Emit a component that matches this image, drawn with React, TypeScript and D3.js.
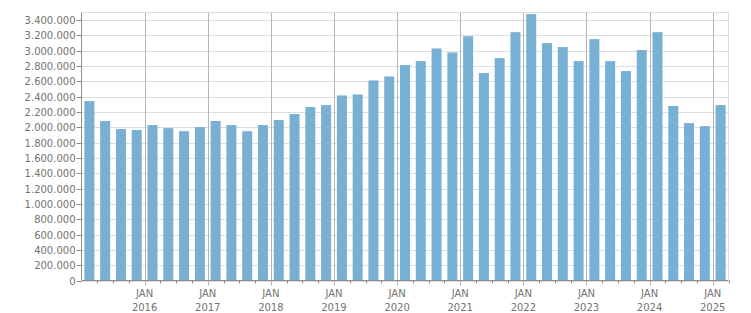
import React from "react";
import * as d3 from "d3";

const quarters: string[] = [];
for (let y = 2015; y <= 2025; y++) for (let q = 1; q <= 4; q++) if (!(y === 2025 && q > 1)) quarters.push(`${y}Q${q}`);

const values: number[] = [
  2343000, 2083000, 1978000, 1965000,
  2030000, 1990000, 1950000, 2004000,
  2083000, 2030000, 1950000, 2030000,
  2097000, 2174000, 2265000, 2291000,
  2417000, 2430000, 2613000, 2665000,
  2813000, 2865000, 3030000, 2978000,
  3190000, 2710000, 2905000, 3243000,
  3480000, 3100000, 3048000, 2865000,
  3152000, 2865000, 2735000, 3010000,
  3243000, 2279000, 2056000, 2017000,
  2291000,
];

const yTicks: number[] = d3.range(0, 3400001, 200000);
const yearLabels: string[] = ["2016", "2017", "2018", "2019", "2020", "2021", "2022", "2023", "2024", "2025"];

const W = 751, H = 313;
const left = 81.5, right = 728.5, top = 12.5, bottom = 280.5;

const fmt = (v: number) => d3.format(",")(v).replace(/,/g, ".");

export default function App() {
  const x = d3.scaleLinear().domain([0, quarters.length]).range([left, right]);
  const y = d3.scaleLinear().domain([0, 3500000]).range([bottom, top]);
  const step = x(1) - x(0);
  const pad = (step - 10) / 2;
  const font = "DejaVu Sans, Verdana, sans-serif";
  const txt = "#737373";
  return (
    <svg width={W} height={H} style={{ position: "absolute", left: 0, top: 0 }} fontFamily={font}>
      <rect x={0} y={0} width={W} height={H} fill="#fff" />
      {yTicks.map((t) => (
        <line key={"g" + t} x1={left} x2={right} y1={Math.round(y(t)) + 0.5} y2={Math.round(y(t)) + 0.5} stroke="#dedede" />
      ))}
      <line x1={left} x2={right} y1={top} y2={top} stroke="#dedede" />
      <line x1={right} x2={right} y1={top} y2={bottom} stroke="#dedede" />
      {yearLabels.map((l, i) => {
        const xx = Math.round(x((i + 1) * 4)) + 0.5;
        return <line key={"v" + l} x1={xx} x2={xx} y1={top} y2={bottom + 5} stroke="#b5b5b5" />;
      })}
      {values.map((v, i) => (
        <rect key={quarters[i]} x={x(i) + pad} width={10} y={y(v)} height={y(0) - y(v)} fill="#78b0d3" />
      ))}
      {d3.range(1, quarters.length + 1).filter((i) => i % 4 !== 0).map((i) => {
        const xx = Math.round(x(i)) + 0.5;
        return <line key={"m" + i} x1={xx} x2={xx} y1={bottom} y2={bottom + 3} stroke="#888" />;
      })}
      <line x1={left} x2={left} y1={top} y2={bottom} stroke="#8c8c8c" />
      <line x1={left} x2={right} y1={bottom} y2={bottom} stroke="#8c8c8c" />
      {yTicks.map((t) => (
        <g key={"t" + t}>
          <line x1={left - 5} x2={left} y1={Math.round(y(t)) + 0.5} y2={Math.round(y(t)) + 0.5} stroke="#8c8c8c" />
          <text x={left - 6} y={Math.round(y(t)) + 0.5} dy="0.35em" textAnchor="end" fontSize={10} fill={txt}>{fmt(t)}</text>
        </g>
      ))}
      {yearLabels.map((l, i) => {
        const xx = x((i + 1) * 4);
        return (
          <g key={"xl" + l}>
            <text x={xx} y={297} textAnchor="middle" fontSize={10} fill={txt}>JAN</text>
            <text x={xx} y={311} textAnchor="middle" fontSize={10} fill={txt}>{l}</text>
          </g>
        );
      })}
    </svg>
  );
}
